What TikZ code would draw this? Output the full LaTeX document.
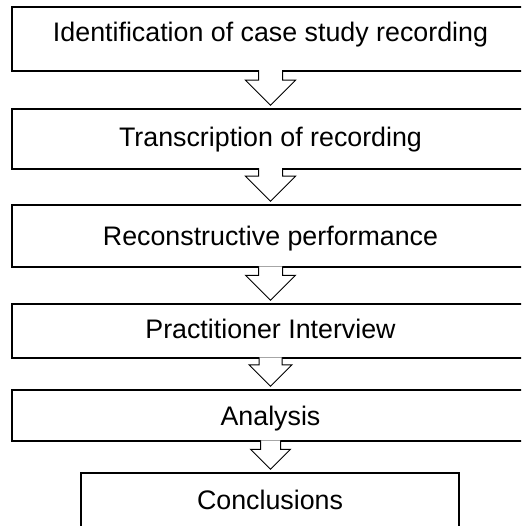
\documentclass[tikz,border=0pt]{standalone}
\usepackage{fontspec}
\setmainfont{Liberation Sans}
\usetikzlibrary{calc}

\tikzset{
  stage/.style={draw, line width=1.5pt, minimum width=517pt, inner sep=0pt,
    font=\fontsize{26.8}{32}\selectfont, text depth=4pt},
  pointer/.style={draw, fill=white, line width=1pt}
}
\newcommand{\stagearrow}[4]{%
  \path[pointer] let \p1=(#1.south), \p2=(#2.north) in
    (\x1-#3, \y1+1.5pt) -- (\x1-#3, \y2+3pt+#4) -- (\x1-#4, \y2+3pt+#4) -- (\x1, \y2+3pt)
    -- (\x1+#4, \y2+3pt+#4) -- (\x1+#3, \y2+3pt+#4) -- (\x1+#3, \y1+1.5pt);
}

\begin{document}
\begin{tikzpicture}[x=1pt, y=-1pt]
        \useasboundingbox (0,0) rectangle (521,526);
        \clip (0,0) rectangle (521,526);
        \node[stage, minimum height=64pt, text height=10pt](ident)at(270.5,39){Identification of case study recording};
        \node[stage, minimum height=60pt, text height=20pt](trans)at(270.5,139){Transcription of recording};
        \node[stage, minimum height=62pt, text height=22pt](recon)at(270.5,236){Reconstructive performance};
        \node[stage, minimum height=54pt, text height=18pt](inter)at(270.5,331){Practitioner Interview};
        \node[stage, minimum height=51pt, text height=23pt](anal)at(270.5,415.5){Analysis};
        \node[stage, minimum height=62pt, minimum width=378pt, text height=14pt](concl)at(270,504){Conclusions};
        \stagearrow{ident}{trans}{12pt}{25pt}
        \stagearrow{trans}{recon}{12pt}{25pt}
        \stagearrow{recon}{inter}{12pt}{25pt}
        \stagearrow{inter}{anal}{11.5pt}{21.5pt}
        \stagearrow{anal}{concl}{10pt}{20pt}
    \end{tikzpicture}
\end{document}
